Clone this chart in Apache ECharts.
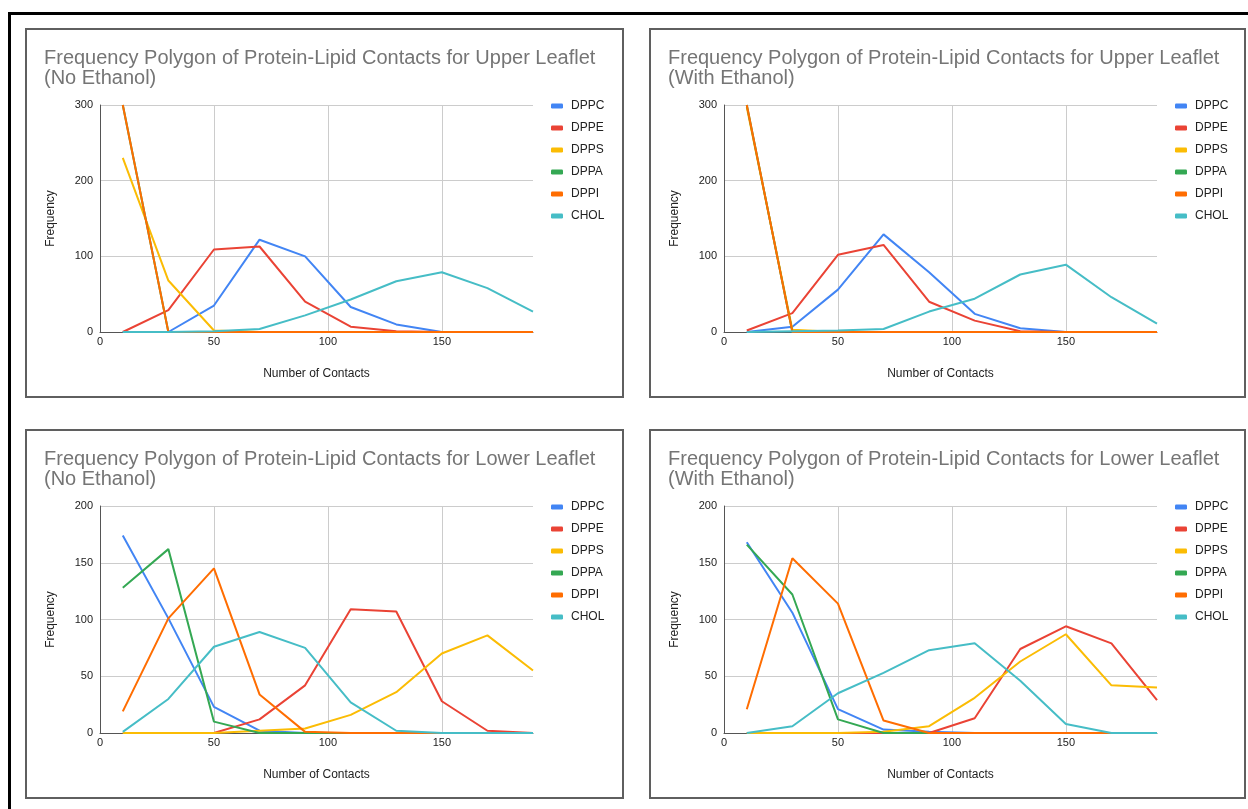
<!DOCTYPE html>
<html>
<head>
<meta charset="utf-8">
<script src="https://cdn.jsdelivr.net/npm/echarts@6/dist/echarts.min.js"></script>
<style>
  html, body { margin: 0; padding: 0; background: #fff; }
  #page { position: relative; width: 1248px; height: 809px; overflow: hidden; }
  .frame { position: absolute; box-sizing: border-box; border: 2px solid #5f5f5f; }
  #outerTop { position: absolute; left: 8px; top: 12px; width: 1240px; height: 3px; background: #000; }
  #outerLeft { position: absolute; left: 8px; top: 12px; width: 3px; height: 797px; background: #000; }
  #chart { position: absolute; left: 0; top: 0; width: 1248px; height: 809px; }
</style>
</head>
<body>
<div id="page">
  <div id="outerTop"></div>
  <div id="outerLeft"></div>
  <div class="frame" style="left:25px;top:28px;width:599px;height:370px;"></div>
  <div class="frame" style="left:649px;top:28px;width:597px;height:370px;"></div>
  <div class="frame" style="left:25px;top:429px;width:599px;height:370px;"></div>
  <div class="frame" style="left:649px;top:429px;width:597px;height:370px;"></div>
  <div id="chart"></div>
</div>
<script>
// ---- data ----
const bins = [10, 30, 50, 70, 90, 110, 130, 150, 170, 190];
const lipids = ['DPPC', 'DPPE', 'DPPS', 'DPPA', 'DPPI', 'CHOL'];
const colors = ['#4285F4', '#EA4335', '#FBBC04', '#34A853', '#FF6D01', '#46BDC6'];

const titles = [
  'Frequency Polygon of Protein-Lipid Contacts for Upper Leaflet\n(No Ethanol)',
  'Frequency Polygon of Protein-Lipid Contacts for Upper Leaflet\n(With Ethanol)',
  'Frequency Polygon of Protein-Lipid Contacts for Lower Leaflet\n(No Ethanol)',
  'Frequency Polygon of Protein-Lipid Contacts for Lower Leaflet\n(With Ethanol)'
];
const xAxisName = 'Number of Contacts';
const yAxisName = 'Frequency';

// Upper leaflet, no ethanol
const upperNoEthDPPC = [0, 0, 35, 122, 100, 33, 10, 0, 0, 0];
const upperNoEthDPPE = [0, 29, 109, 113, 40, 7, 1, 0, 0, 0];
const upperNoEthDPPS = [230, 68, 2, 0, 0, 0, 0, 0, 0, 0];
const upperNoEthDPPA = [300, 0, 0, 0, 0, 0, 0, 0, 0, 0];
const upperNoEthDPPI = [300, 0, 0, 0, 0, 0, 0, 0, 0, 0];
const upperNoEthCHOL = [0, 0, 1, 4, 22, 43, 67, 79, 58, 27];

// Upper leaflet, with ethanol
const upperEthDPPC = [0, 7, 56, 129, 79, 24, 5, 0, 0, 0];
const upperEthDPPE = [2, 25, 102, 115, 40, 15, 1, 0, 0, 0];
const upperEthDPPS = [297, 3, 0, 0, 0, 0, 0, 0, 0, 0];
const upperEthDPPA = [300, 0, 0, 0, 0, 0, 0, 0, 0, 0];
const upperEthDPPI = [300, 0, 0, 0, 0, 0, 0, 0, 0, 0];
const upperEthCHOL = [0, 1, 2, 4, 27, 44, 76, 89, 46, 11];

// Lower leaflet, no ethanol
const lowerNoEthDPPC = [174, 101, 23, 2, 0, 0, 0, 0, 0, 0];
const lowerNoEthDPPE = [0, 0, 0, 12, 42, 109, 107, 28, 2, 0];
const lowerNoEthDPPS = [0, 0, 0, 2, 4, 16, 36, 70, 86, 55];
const lowerNoEthDPPA = [128, 162, 10, 0, 0, 0, 0, 0, 0, 0];
const lowerNoEthDPPI = [19, 101, 145, 34, 1, 0, 0, 0, 0, 0];
const lowerNoEthCHOL = [1, 30, 76, 89, 75, 27, 2, 0, 0, 0];

// Lower leaflet, with ethanol
const lowerEthDPPC = [168, 106, 21, 3, 1, 0, 0, 0, 0, 0];
const lowerEthDPPE = [0, 0, 0, 0, 0, 13, 74, 94, 79, 29];
const lowerEthDPPS = [0, 0, 0, 1, 6, 31, 63, 87, 42, 40];
const lowerEthDPPA = [166, 122, 12, 0, 0, 0, 0, 0, 0, 0];
const lowerEthDPPI = [21, 154, 114, 11, 0, 0, 0, 0, 0, 0];
const lowerEthCHOL = [0, 6, 35, 53, 73, 79, 46, 8, 0, 0];

const yTickMax = [300, 300, 200, 200];
const yTickInterval = [100, 100, 50, 50];
const xMax = 190;
const xInterval = 50;

const panelData = [
  [upperNoEthDPPC, upperNoEthDPPE, upperNoEthDPPS, upperNoEthDPPA, upperNoEthDPPI, upperNoEthCHOL],
  [upperEthDPPC, upperEthDPPE, upperEthDPPS, upperEthDPPA, upperEthDPPI, upperEthCHOL],
  [lowerNoEthDPPC, lowerNoEthDPPE, lowerNoEthDPPS, lowerNoEthDPPA, lowerNoEthDPPI, lowerNoEthCHOL],
  [lowerEthDPPC, lowerEthDPPE, lowerEthDPPS, lowerEthDPPA, lowerEthDPPI, lowerEthCHOL]
];

// ---- layout ----
const FONT = "'Liberation Sans', Arial, sans-serif";
const layout = [
  { gx: 100, gy: 105, tx: 44, ty: 48, lx: 551, ly: 99 },
  { gx: 724, gy: 105, tx: 668, ty: 48, lx: 1175, ly: 99 },
  { gx: 100, gy: 506, tx: 44, ty: 449, lx: 551, ly: 500 },
  { gx: 724, gy: 506, tx: 668, ty: 449, lx: 1175, ly: 500 }
];
const GW = 433, GH = 227;

const option = {
  animation: false,
  color: colors,
  textStyle: { fontFamily: FONT },
  title: [], legend: [], grid: [], xAxis: [], yAxis: [], series: []
};

layout.forEach((L, p) => {
  option.title.push({
    text: titles[p], left: L.tx, top: L.ty, padding: 0,
    textStyle: { fontFamily: FONT, fontSize: 20, fontWeight: 'normal', color: '#757575', lineHeight: 20 }
  });
  option.legend.push({
    orient: 'vertical', left: L.lx, top: L.ly, padding: 0,
    icon: 'roundRect', itemWidth: 12, itemHeight: 5, itemGap: 8,
    data: lipids,
    selectedMode: false,
    textStyle: { fontFamily: FONT, fontSize: 12, color: '#222', lineHeight: 14, padding: [0, 0, 0, 3] }
  });
  option.grid.push({ left: L.gx, top: L.gy, width: GW, height: GH, containLabel: false });
  option.xAxis.push({
    type: 'value', gridIndex: p, min: 0, max: xMax, interval: xInterval,
    name: xAxisName, nameLocation: 'middle', nameGap: 36,
    nameTextStyle: { fontFamily: FONT, fontSize: 12, color: '#222' },
    axisLine: { show: true, onZero: false, lineStyle: { color: '#555', width: 1 } },
    axisTick: { show: false },
    axisLabel: { fontFamily: FONT, fontSize: 11, color: '#222', margin: 4, showMaxLabel: false },
    splitLine: { show: true, showMinLine: false, showMaxLine: false, lineStyle: { color: '#ccc', width: 1 } }
  });
  option.yAxis.push({
    type: 'value', gridIndex: p, min: 0, max: yTickMax[p], interval: yTickInterval[p],
    name: yAxisName, nameLocation: 'middle', nameGap: 43,
    nameTextStyle: { fontFamily: FONT, fontSize: 12, color: '#222' },
    axisLine: { show: true, lineStyle: { color: '#555', width: 1 } },
    axisTick: { show: false },
    axisLabel: { fontFamily: FONT, fontSize: 11, color: '#222', margin: 7 },
    splitLine: { show: true, showMinLine: false, lineStyle: { color: '#ccc', width: 1 } }
  });
  lipids.forEach((name, s) => {
    option.series.push({
      type: 'line', name: name, xAxisIndex: p, yAxisIndex: p,
      data: bins.map((b, i) => [b, panelData[p][s][i]]),
      symbol: 'none', showSymbol: false,
      lineStyle: { width: 2, color: colors[s] },
      itemStyle: { color: colors[s] },
      emphasis: { disabled: true },
      silent: true
    });
  });
});

const chart = echarts.init(document.getElementById('chart'), null, { renderer: 'canvas' });
chart.setOption(option);
</script>
</body>
</html>
